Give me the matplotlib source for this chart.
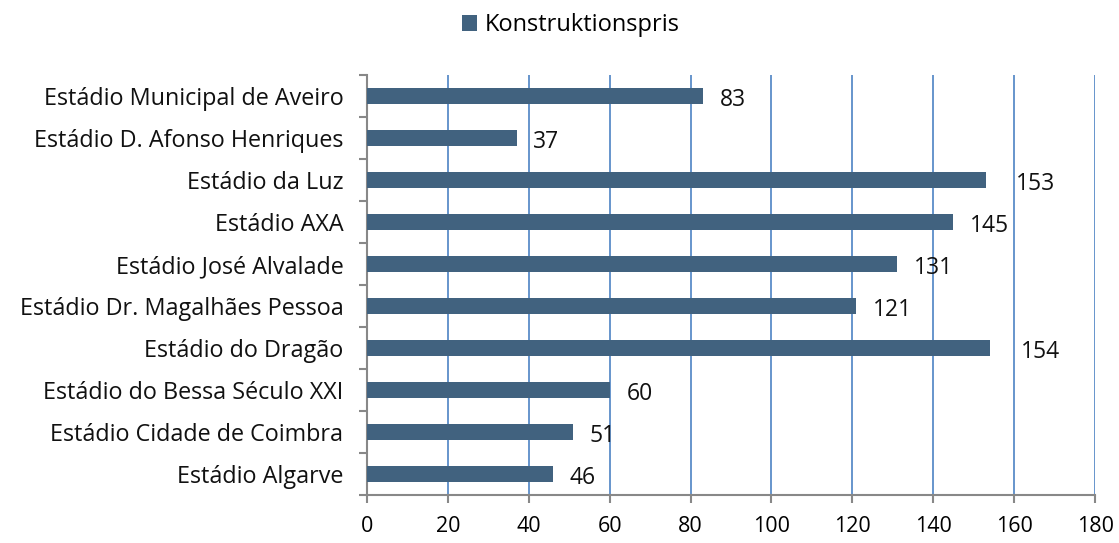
import matplotlib.pyplot as plt
import numpy as np

# stadium names, top to bottom as shown
stadiums = ["Estádio Municipal de Aveiro", "Estádio D. Afonso Henriques", "Estádio da Luz",
            "Estádio AXA", "Estádio José Alvalade", "Estádio Dr. Magalhães Pessoa",
            "Estádio do Dragão", "Estádio do Bessa Século XXI", "Estádio Cidade de Coimbra",
            "Estádio Algarve"]
pris = [83, 37, 153, 145, 131, 121, 154, 60, 51, 46]
xticks = [0, 20, 40, 60, 80, 100, 120, 140, 160, 180]

plt.rcParams['font.family'] = ['Open Sans', 'DejaVu Sans']

fig = plt.figure(figsize=(11.19, 5.43), dpi=100)
ax = fig.add_axes([0.328, 0.0884, 0.6506, 0.7736])

y = np.arange(len(stadiums))[::-1]
bars = ax.barh(y, pris, height=0.38, color='#41627F', label='Konstruktionspris', zorder=3)

ax.set_xlim(0, 180)
ax.set_ylim(-0.5, len(stadiums) - 0.5)
ax.set_xticks(xticks)
ax.set_xticklabels([str(t) for t in xticks], fontsize=15.5)
ax.set_yticks(y)
ax.set_yticklabels(stadiums, fontsize=16.8, color='#111111')
ax.set_yticks(np.arange(-0.5, len(stadiums), 1), minor=True)

ax.grid(axis='x', color='#5B8CC8', linewidth=1.3, zorder=0)
for s in ['top', 'right']:
    ax.spines[s].set_visible(False)
for s in ['left', 'bottom']:
    ax.spines[s].set_color('#888888')
    ax.spines[s].set_linewidth(1.5)

ax.tick_params(axis='y', which='major', length=0, pad=17)
ax.tick_params(axis='y', which='minor', length=6, color='#888888', width=1.5)
ax.tick_params(axis='x', length=6, color='#888888', width=1.5, pad=9)

for yy, v in zip(y, pris):
    # the two longest bars have their labels pushed past the 160 gridline
    dx = 22 if v > 150 else 12
    ax.annotate(str(v), (v, yy), xytext=(dx, -3), textcoords='offset points',
                va='center', ha='left', fontsize=16.5, color='#111111')

fig.legend(handles=[bars], loc='upper center', bbox_to_anchor=(0.51, 1.015), frameon=False,
           fontsize=17, handlelength=0.65, handleheight=0.65, handletextpad=0.3)

fig.savefig('out.png', dpi=100)
